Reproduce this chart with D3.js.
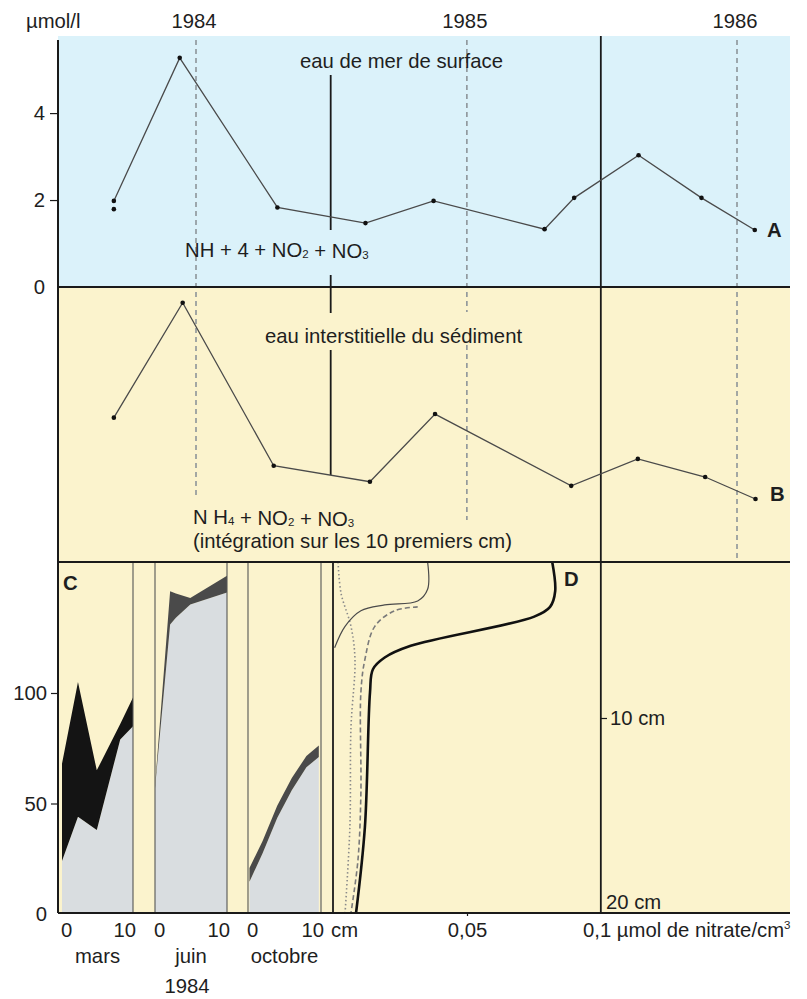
<!DOCTYPE html>
<html><head><meta charset="utf-8">
<script src="https://cdn.jsdelivr.net/npm/d3@7"></script>
<style>
body{margin:0;background:#fff}
text{font-family:"Liberation Sans",Arial,Helvetica,sans-serif;fill:#1e1e1e}
</style>
</head><body>
<svg id="chart" width="807" height="999"></svg>
<script>
// ---------------- DATA ----------------
const yearLabels = ["1984", "1985", "1986"];
const yearStarts = ["1984-01-01", "1985-01-01", "1986-01-01"];
const midYears = ["1984-07-01", "1985-07-01"];

// A : surface sea water (µmol/l)
const aDates = ["1983-09-12","1983-12-10","1984-04-20","1984-08-17","1984-11-17","1985-04-16","1985-05-26","1985-08-21","1985-11-14","1986-01-25"];
const aValues = [1.98, 5.27, 1.83, 1.47, 1.98, 1.33, 2.05, 3.03, 2.05, 1.31];
const aExtraDates = ["1983-09-12"];
const aExtraValues = [1.79];
const aTicks = [0, 2, 4];

// B : sediment interstitial water (relative units, no axis)
const bDates = ["1983-09-12","1983-12-14","1984-04-15","1984-08-23","1984-11-19","1985-05-22","1985-08-20","1985-11-19","1986-01-26"];
const bValues = [5.25, 9.43, 3.5, 2.92, 5.38, 2.77, 3.75, 3.09, 2.29];

// C : profiles 0-10 cm, 1984
const cMonths = ["mars", "juin", "octobre"];
const cTicks = [0, 50, 100];
const marsDepth = [0, 2.25, 4.9, 8.2, 10];
const marsLower = [24, 44, 38, 79, 85];
const marsUpper = [68, 105, 65, 86, 98];
const juinDepth = [0, 2.1, 2.9, 4.9, 10];
const juinLower = [57, 131, 134, 140, 145.5];
const juinUpper = [58, 146, 145, 143, 153];
const octDepth = [0.2, 2, 4, 6, 8, 9.7];
const octLower = [14.6, 27.5, 43.4, 56, 66.4, 71];
const octUpper = [20.8, 33, 49, 61.5, 71.5, 76.3];

// D : nitrate profiles (µmol/cm3) vs depth (cm)
const dThickDepth = [2, 3.5, 4.3, 4.8, 6.3, 6.9, 7.5, 8.7, 15.6, 20];
const dThickNitrate = [0.0818, 0.0829, 0.081, 0.0751, 0.029, 0.0193, 0.0149, 0.0138, 0.0119, 0.0086];
const dThinDepth = [2, 3.4, 4.0, 4.2, 4.5, 5.3, 6.4];
const dThinNitrate = [0.0353, 0.0353, 0.0316, 0.0193, 0.0104, 0.0045, 0.0006];
const dDashDepth = [4.3, 4.5, 5.3, 7.0, 8.7, 13.9, 17.3, 20];
const dDashNitrate = [0.0316, 0.023, 0.0156, 0.0119, 0.0104, 0.0104, 0.0093, 0.0067];
const dDotDepth = [2, 3.6, 5.3, 7.0, 10.5, 15.6, 20];
const dDotNitrate = [0.0019, 0.003, 0.0067, 0.0082, 0.0067, 0.0063, 0.0045];
const dDepthTicks = [10, 20];

// ---------------- LAYOUT ----------------
const L = 58, R = 790, TOP = 36, YA0 = 287, YB0 = 562, YC0 = 913;
const parse = d3.timeParse("%Y-%m-%d");
const svg = d3.select("#chart");
const FS = 20.3;

const x = d3.scaleTime().domain([parse("1984-01-01"), parse("1986-01-01")]).range([196, 737]);
const yA = d3.scaleLinear().domain([0, 5.75]).range([YA0, 37]);
const yB = d3.scaleLinear().domain([0, 10]).range([YB0, YA0]);
const yC = d3.scaleLinear().domain([0, 100]).range([914, 693]);
const cRanges = [[62, 133], [155, 227], [248, 321]];
const cx = cRanges.map(r => d3.scaleLinear().domain([0, 10]).range(r));
const xD = d3.scaleLinear().domain([0, 0.1]).range([333, 601]);
const yD = d3.scaleLinear().domain([2, 20]).range([YB0, YC0]);

// backgrounds
svg.append("rect").attr("x", 0).attr("y", 0).attr("width", 807).attr("height", 999).attr("fill", "#fff");
svg.append("rect").attr("x", L).attr("y", TOP).attr("width", R - L).attr("height", YA0 - TOP).attr("fill", "#dbf2fa");
svg.append("rect").attr("x", L).attr("y", YA0).attr("width", R - L).attr("height", YC0 - YA0).attr("fill", "#fbf3cd");

// ---------------- PANEL C ----------------
const cSets = [
  {d: marsDepth, lo: marsLower, hi: marsUpper, band: "#141414"},
  {d: juinDepth, lo: juinLower, hi: juinUpper, band: "#4a4a4a"},
  {d: octDepth, lo: octLower, hi: octUpper, band: "#4a4a4a"}
];
cSets.forEach((s, i) => {
  const pts = s.d.map((d, k) => ({d, lo: s.lo[k], hi: s.hi[k]}));
  const sx = cx[i];
  svg.append("path").datum(pts).attr("fill", "#d9dde0")
    .attr("d", d3.area().x(p => sx(p.d)).y0(yC(0)).y1(p => yC(p.lo)));
  svg.append("path").datum(pts).attr("fill", s.band)
    .attr("d", d3.area().x(p => sx(p.d)).y0(p => yC(p.lo)).y1(p => yC(p.hi)));
});
// C panel separators
const sepX = [];
cx.forEach((s, i) => { if (i > 0) sepX.push(s(0)); sepX.push(s(10)); });
svg.selectAll(".csep").data(sepX).join("line")
  .attr("x1", d => d).attr("x2", d => d).attr("y1", YB0).attr("y2", YC0)
  .attr("stroke", "#555").attr("stroke-width", 1.1);

// ---------------- PANEL D ----------------
const dLine = d3.line().x(p => xD(p.n)).y(p => yD(p.d)).curve(d3.curveCatmullRom.alpha(0.5));
const dSets = [
  {d: dDotDepth, n: dDotNitrate, stroke: "#8a8a8a", w: 1.6, dash: "1.5,2.5"},
  {d: dDashDepth, n: dDashNitrate, stroke: "#7a7a7a", w: 1.6, dash: "5,3"},
  {d: dThinDepth, n: dThinNitrate, stroke: "#4a4a4a", w: 1.2, dash: null},
  {d: dThickDepth, n: dThickNitrate, stroke: "#111", w: 2.6, dash: null}
];
dSets.forEach(s => {
  svg.append("path").datum(s.d.map((d, k) => ({d, n: s.n[k]})))
    .attr("fill", "none").attr("stroke", s.stroke).attr("stroke-width", s.w)
    .attr("stroke-dasharray", s.dash).attr("d", dLine);
});

// ---------------- VERTICAL MARKERS ----------------
const dash = "5,4";
const ys = yearStarts.map(parse);
const dashSegs = [
  [ys[0], 40, 498],
  [ys[1], 40, 312], [ys[1], 345, 520],
  [ys[2], 40, 560]
];
svg.selectAll(".dashv").data(dashSegs).join("line")
  .attr("x1", d => x(d[0])).attr("x2", d => x(d[0])).attr("y1", d => d[1]).attr("y2", d => d[2])
  .attr("stroke", "#8d9499").attr("stroke-width", 1.6).attr("stroke-dasharray", dash);

const my = midYears.map(parse);
const solidSegs = [[my[0], 75, 230], [my[0], 275, 313], [my[0], 350, 475], [my[1], TOP, YC0]];
svg.selectAll(".solidv").data(solidSegs).join("line")
  .attr("x1", d => x(d[0])).attr("x2", d => x(d[0])).attr("y1", d => d[1]).attr("y2", d => d[2])
  .attr("stroke", "#1a1a1a").attr("stroke-width", 1.8);
svg.append("line").attr("x1", xD(0)).attr("x2", xD(0)).attr("y1", YB0).attr("y2", YC0)
  .attr("stroke", "#1a1a1a").attr("stroke-width", 1.8);

// ---------------- SERIES A & B ----------------
const aPts = aDates.map((d, i) => ({x: x(parse(d)), y: yA(aValues[i])}));
const bPts = bDates.map((d, i) => ({x: x(parse(d)), y: yB(bValues[i])}));
const lin = d3.line().x(p => p.x).y(p => p.y);
[aPts, bPts].forEach(pts => {
  svg.append("path").datum(pts).attr("fill", "none").attr("stroke", "#4a4a4a").attr("stroke-width", 1.3).attr("d", lin);
  svg.selectAll(null).data(pts).join("circle").attr("cx", p => p.x).attr("cy", p => p.y).attr("r", 2.3).attr("fill", "#111");
});
svg.selectAll(null).data(aExtraDates).join("circle")
  .attr("cx", d => x(parse(d))).attr("cy", (d, i) => yA(aExtraValues[i])).attr("r", 2.3).attr("fill", "#111");

// ---------------- FRAME LINES ----------------
svg.append("line").attr("x1", L).attr("x2", L).attr("y1", 40).attr("y2", YC0).attr("stroke", "#1a1a1a").attr("stroke-width", 2);
[YA0, YB0, YC0].forEach(y => svg.append("line").attr("x1", L).attr("x2", R).attr("y1", y).attr("y2", y)
  .attr("stroke", "#1a1a1a").attr("stroke-width", 2));

// ---------------- AXES ----------------
function styleAxis(g) {
  g.select(".domain").remove();
  g.selectAll(".tick line").attr("stroke", "#1a1a1a").attr("stroke-width", 1.2);
  g.selectAll(".tick text").attr("font-size", FS).attr("font-family", "Liberation Sans, Arial, sans-serif").attr("fill", "#1e1e1e");
}
const fmtInt = d3.format("d");
svg.append("g").attr("transform", `translate(${L},0)`)
  .call(d3.axisLeft(yA).tickValues(aTicks).tickSize(8).tickPadding(5).tickFormat(fmtInt)).call(styleAxis)
  .selectAll(".tick").filter(d => d === 0).select("line").remove();
svg.append("g").attr("transform", `translate(${L},0)`)
  .call(d3.axisLeft(yC).tickValues(cTicks).tickSize(7).tickPadding(4).tickFormat(fmtInt)).call(styleAxis)
  .selectAll(".tick").filter(d => d === 0).select("line").remove();

svg.append("g").attr("transform", `translate(0,${YC0})`)
  .call(d3.axisBottom(xD).tickValues([0.05]).tickSize(3).tickPadding(7).tickFormat(() => "0,05")).call(styleAxis);
const dt = svg.append("g").attr("transform", `translate(${xD(0.1)},0)`)
  .call(d3.axisRight(yD).tickValues(dDepthTicks).tickSize(6).tickPadding(3).tickFormat(d => d + " cm")).call(styleAxis);
dt.selectAll(".tick").filter(d => d === 20).select("text").attr("dy", "-0.2em").attr("x", 5);
dt.selectAll(".tick").filter(d => d === 20).select("line").remove();

// ---------------- TEXT ----------------
function txt(s, xx, yy, opts = {}) {
  const t = svg.append("text").attr("x", xx).attr("y", yy).attr("font-size", opts.size || FS)
    .attr("text-anchor", opts.anchor || "start").attr("font-weight", opts.weight || "normal");
  return t.text(s);
}
function richText(parts, xx, yy) {
  const t = svg.append("text").attr("x", xx).attr("y", yy).attr("font-size", FS);
  parts.forEach(p => {
    if (typeof p === "string") t.append("tspan").text(p);
    else if (p.sub) { t.append("tspan").attr("font-size", 11.5).attr("dy", 1).text(p.sub); t.append("tspan").attr("dy", -1).text(""); }
    else if (p.sup) t.append("tspan").attr("font-size", 11.5).attr("dy", -8).text(p.sup);
  });
  return t;
}
txt("µmol/l", 26, 28);
yearLabels.forEach((lab, i) => txt(lab, x(ys[i]) - 2, 28, {anchor: "middle"}));

txt("eau de mer de surface", 300, 68);
richText(["NH + 4 + NO", {sub: "2"}, " + NO", {sub: "3"}], 185, 257);
txt("A", 767, 237, {weight: "bold"});

txt("eau interstitielle du sédiment", 265, 343);
richText(["N H", {sub: "4"}, " + NO", {sub: "2"}, " + NO", {sub: "3"}], 193, 524);
txt("(intégration sur les 10 premiers cm)", 193, 548);
txt("B", 770, 501, {weight: "bold"});

txt("C", 63, 590, {weight: "bold"});
txt("D", 564, 586, {weight: "bold"});

cx.forEach((s, i) => {
  txt("0", s(0) - 1, 937);
  txt("10", s(10) + 3, 937, {anchor: "end"});
  txt(cMonths[i], (s(0) + s(10)) / 2, 963, {anchor: "middle"});
});
txt("cm", 331, 937);
txt("1984", 187, 993, {anchor: "middle"});
richText(["0,1 µmol de nitrate/cm", {sup: "3"}], 583, 937);
</script>
</body></html>
